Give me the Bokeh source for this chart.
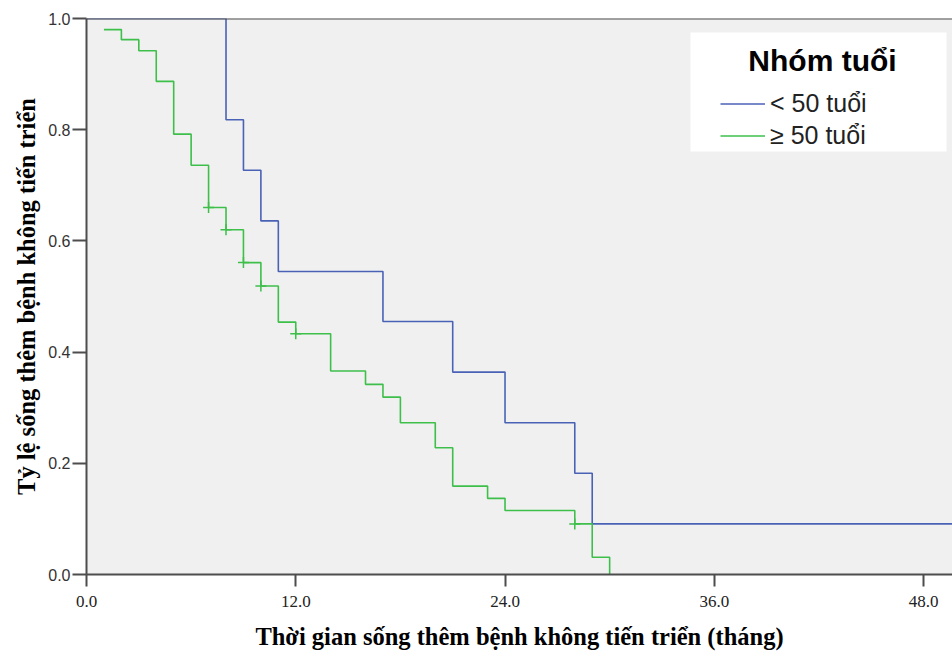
from bokeh.plotting import figure
from bokeh.models import (Range1d, FixedTicker, PrintfTickFormatter, Legend, LegendItem,
                          Span, BoxAnnotation, Label)
from bokeh.embed import file_html
from bokeh.resources import INLINE
import numpy as np

# Kaplan-Meier estimates: progression-free survival by age group
group_names = ["< 50 tuổi", "≥ 50 tuổi"]

# under 50: time (months) and survival after each step
young_time = [0, 8, 9, 10, 11, 17, 21, 24, 28, 29]
young_surv = [1.0, 0.818, 0.727, 0.636, 0.545, 0.455, 0.364, 0.273, 0.182, 0.091]
young_last_followup = 52

# 50 and over
old_time = [1, 2, 3, 4, 5, 6, 7, 8, 9, 10, 11, 12, 14, 16, 17, 18, 20, 21, 23, 24, 28, 29, 30]
old_surv = [0.980, 0.962, 0.942, 0.887, 0.792, 0.736, 0.660, 0.620, 0.561, 0.519, 0.454,
            0.433, 0.366, 0.342, 0.319, 0.273, 0.228, 0.159, 0.137, 0.115, 0.091, 0.031, 0.0]
old_censored = [7, 8, 9, 10, 12, 28]

x_ticks = [0, 12, 24, 36, 48]
y_ticks = [0.0, 0.2, 0.4, 0.6, 0.8, 1.0]

BLUE = "#4a62b6"
GREEN = "#3dbf4a"
AXIS = "#4d4d4d"

p = figure(width=952, height=652, x_range=Range1d(0, 49.66), y_range=Range1d(0, 1.0),
           output_backend="svg", toolbar_location=None,
           min_border_left=86, min_border_right=0, min_border_top=18, min_border_bottom=78,
           background_fill_color="#f0f0f0", border_fill_color="white",
           outline_line_color=None)
p.grid.visible = False

# axes
p.xaxis.ticker = FixedTicker(ticks=x_ticks)
p.yaxis.ticker = FixedTicker(ticks=y_ticks)
p.xaxis.formatter = PrintfTickFormatter(format="%.1f")
p.yaxis.formatter = PrintfTickFormatter(format="%.1f")
for ax in (p.xaxis, p.yaxis):
    ax.axis_line_color = AXIS
    ax.axis_line_width = 2
    ax.major_tick_line_color = AXIS
    ax.major_tick_line_width = 2
    ax.major_tick_in = 0
    ax.minor_tick_line_color = None
    ax.axis_label_text_font = "Liberation Serif"
    ax.axis_label_text_font_style = "bold"
    ax.axis_label_text_font_size = "24.5px"
    ax.axis_label_text_color = "black"

p.xaxis.major_tick_out = 12
p.xaxis.major_label_text_font = "Liberation Serif"
p.xaxis.major_label_text_font_size = "17px"
p.xaxis.major_label_text_color = "#222222"
p.xaxis.major_label_standoff = 9
p.xaxis.axis_label = "Thời gian sống thêm bệnh không tiến triển (tháng)"
p.xaxis.axis_label_standoff = 13

p.yaxis.major_tick_out = 14
p.yaxis.major_label_text_font = "Liberation Sans"
p.yaxis.major_label_text_font_size = "16px"
p.yaxis.major_label_text_color = "#333333"
p.yaxis.major_label_standoff = 2
p.yaxis.axis_label = "Tỷ lệ sống thêm bệnh không tiến triển"
p.yaxis.axis_label_standoff = 5

# top border of the plotting area
p.add_layout(Span(location=1.0, dimension="width", line_color=AXIS, line_width=2))

# survival curves
r_young = p.step(young_time + [young_last_followup], young_surv + [young_surv[-1]],
                 mode="after", line_color=BLUE, line_width=1.6)
r_old = p.step(old_time, old_surv, mode="after", line_color=GREEN, line_width=1.6)

# censoring marks sit on the curve value at the censoring time
ot = np.array(old_time)
os_ = np.array(old_surv)
cens_y = [float(os_[np.searchsorted(ot, t, side="right") - 1]) for t in old_censored]
p.scatter(old_censored, cens_y, marker="cross", size=11, line_color=GREEN, line_width=1.5)

# legend panel
p.add_layout(BoxAnnotation(left=604, right=860, bottom=423, top=542,
                           left_units="screen", right_units="screen",
                           bottom_units="screen", top_units="screen",
                           fill_color="white", fill_alpha=1.0, line_color=None))
p.add_layout(Label(x=736, y=514, x_units="screen", y_units="screen", text="Nhóm tuổi",
                   text_align="center", text_baseline="middle", text_font="Liberation Sans",
                   text_font_size="30px", text_font_style="bold", text_color="black"))
legend = Legend(items=[LegendItem(label=group_names[0], renderers=[r_young]),
                       LegendItem(label=group_names[1], renderers=[r_old])],
                location=(634, 424), padding=0, margin=0, spacing=3,
                glyph_width=45, glyph_height=29, label_height=29, label_standoff=5,
                label_text_font="Liberation Sans", label_text_font_size="25px",
                label_text_color="#222222",
                background_fill_alpha=0, border_line_color=None)
p.add_layout(legend)

open("out.html", "w").write(file_html(p, INLINE))
